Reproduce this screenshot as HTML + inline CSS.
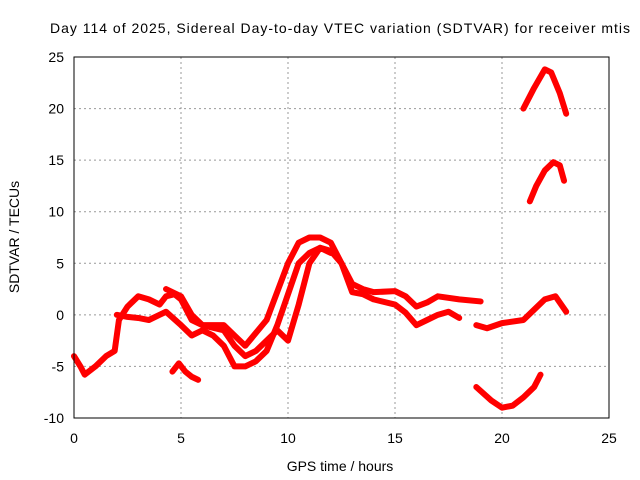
<!DOCTYPE html>
<html><head><meta charset="utf-8"><style>
body{margin:0;background:#fff}
svg{display:block;font-family:"Liberation Sans",sans-serif}
</style></head><body>
<svg width="640" height="480" id="chart">
<text x="340" y="33" text-anchor="middle" font-size="14" textLength="580" lengthAdjust="spacing">Day 114 of 2025, Sidereal Day-to-day VTEC variation (SDTVAR) for receiver mtis</text>
<text x="340" y="471" text-anchor="middle" font-size="14">GPS time / hours</text>
<text transform="translate(19,237) rotate(-90)" text-anchor="middle" font-size="14">SDTVAR / TECUs</text>
<g id="grid"></g><g id="marks"></g>
<rect x="74" y="57" width="535" height="361" fill="none" stroke="#000"/>
</svg>
<script>
const xTicks=[0,5,10,15,20,25];
const yTicks=[-10,-5,0,5,10,15,20,25];
const trackA=[[0,-4],[0.3,-5],[0.5,-5.8],[1,-5],[1.5,-4],[1.9,-3.5],[2.1,-0.5],[2.5,0.8],[3,1.8],[3.5,1.5],[4,1],[4.3,1.8],[4.7,2],[5,1.5],[5.5,-0.5],[6,-1],[7,-1],[7.5,-2],[8,-3],[9,-0.5],[10,5],[10.5,7],[11,7.5],[11.5,7.5],[12,7],[12.5,5],[13,3],[13.5,2.5],[14,2.2],[15,2.3],[15.5,1.8],[16,0.8],[16.5,1.2],[17,1.8],[18,1.5],[19,1.3]];
const trackB=[[2,0],[2.5,-0.2],[3,-0.3],[3.5,-0.5],[4,0],[4.3,0.3],[5,-1],[5.5,-2],[6,-1.5],[6.5,-2],[7,-3],[7.5,-5],[8,-5],[8.5,-4.5],[9,-3.5],[9.5,-1],[10,2],[10.5,5],[11,6],[11.5,6.5],[12,6.2],[12.5,5],[13,2.2],[13.5,2],[14,1.5],[15,1],[15.5,0.2],[16,-1],[16.5,-0.5],[17,0],[17.5,0.3],[18,-0.3]];
const trackC=[[4.3,2.5],[5,1.8],[5.5,0],[6,-1],[7,-1.5],[7.5,-3],[8,-4],[8.5,-3.5],[9,-2.5],[9.5,-1.5],[10,-2.5],[10.5,1],[11,5],[11.5,6.5],[12,6]];
const trackD=[[4.6,-5.5],[4.9,-4.7],[5.2,-5.5],[5.5,-6],[5.8,-6.3]];
const trackE=[[18.8,-1],[19.3,-1.3],[20,-0.8],[21,-0.5],[21.5,0.5],[22,1.5],[22.5,1.8],[23,0.3]];
const trackF=[[18.8,-7],[19.5,-8.3],[20,-9],[20.5,-8.8],[21,-8],[21.5,-7],[21.8,-5.8]];
const trackG=[[21.3,11],[21.6,12.5],[22,14],[22.4,14.8],[22.7,14.5],[22.9,13]];
const trackH=[[21,20],[21.5,22],[22,23.8],[22.3,23.5],[22.7,21.5],[23,19.5]];
const tracks=[trackA,trackB,trackC,trackD,trackE,trackF,trackG,trackH];
const X=v=>74+v*535/25, Y=v=>57+(25-v)*361/35;
const NS='http://www.w3.org/2000/svg';
const svg=document.getElementById('chart'),grid=document.getElementById('grid'),marks=document.getElementById('marks');
function mk(tag,attrs,parent){const e=document.createElementNS(NS,tag);for(const k in attrs)e.setAttribute(k,attrs[k]);parent.appendChild(e);return e;}
xTicks.forEach(t=>{
 if(t>0&&t<25){const l=mk('line',{x1:X(t),x2:X(t),y1:57,y2:418,stroke:'#999','stroke-dasharray':'2,3'},grid);
 
 }
 const tx=mk('text',{x:X(t),y:443,'text-anchor':'middle','font-size':'14'},svg);tx.textContent=t;
 
 
});
yTicks.forEach(t=>{
 if(t>-10&&t<25){const l=mk('line',{x1:74,x2:609,y1:Y(t),y2:Y(t),stroke:'#999','stroke-dasharray':'2,3'},grid);
 
 }
 const tx=mk('text',{x:64,y:Y(t)+5,'text-anchor':'end','font-size':'14'},svg);tx.textContent=t;
 
 
});
tracks.forEach(tr=>{
 const p=mk('polyline',{points:tr.map(d=>X(d[0])+','+Y(d[1])).join(' '),fill:'none',stroke:'#f00','stroke-width':6,'stroke-linejoin':'round','stroke-linecap':'round'},marks);
 
 
});
</script>
</body></html>
